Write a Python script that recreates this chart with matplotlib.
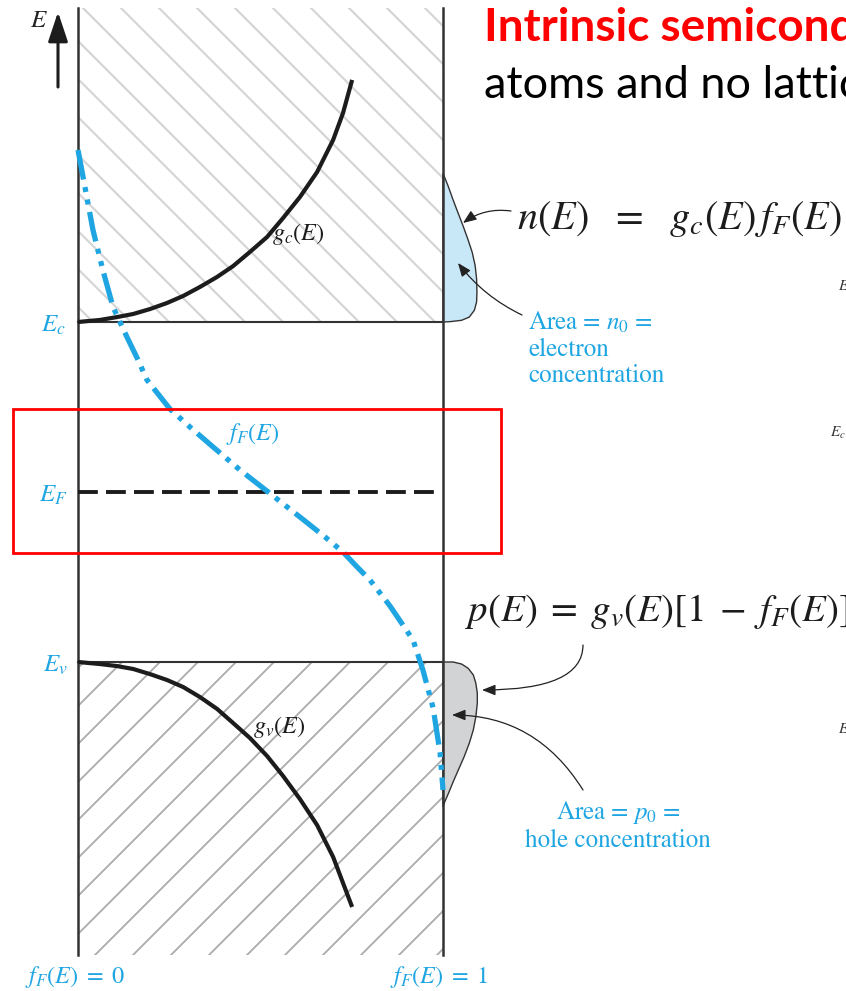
import numpy as np
import matplotlib.pyplot as plt
from matplotlib.patches import Rectangle, FancyArrowPatch

plt.rcParams['mathtext.fontset'] = 'stix'
plt.rcParams['font.family'] = ['STIXGeneral', 'DejaVu Serif']

# energies in units of half the band gap, measured from the Fermi level
E_c, E_F, E_v = 1.0, 0.0, -1.0
E_top, E_bottom = 2.847, -2.724

# density of states, conduction band (g in units of the box width)
gc_g = [0.0, 0.060, 0.107, 0.151, 0.197, 0.244, 0.288, 0.334, 0.381,
        0.425, 0.471, 0.518, 0.562, 0.608, 0.655, 0.699, 0.726, 0.751]
gc_E = [1.0, 1.012, 1.029, 1.047, 1.076, 1.112, 1.153, 1.206, 1.265,
        1.329, 1.412, 1.5, 1.612, 1.735, 1.882, 2.071, 2.229, 2.424]

# density of states, valence band
gv_g = [0.0, 0.060, 0.107, 0.151, 0.197, 0.244, 0.288, 0.334, 0.381,
        0.425, 0.471, 0.518, 0.562, 0.608, 0.655, 0.699, 0.751]
gv_E = [-1.0, -1.012, -1.024, -1.041, -1.071, -1.106, -1.147, -1.206, -1.276,
        -1.359, -1.447, -1.553, -1.671, -1.806, -1.959, -2.147, -2.441]

# Fermi-Dirac distribution
fF_f = [0.0, 0.019, 0.041, 0.068, 0.096, 0.134, 0.162, 0.189, 0.252, 0.31,
        0.370, 0.444, 0.521, 0.625, 0.677, 0.726, 0.762, 0.8, 0.855, 0.918,
        0.945, 0.973, 0.992, 1.0]
fF_E = [2.012, 1.794, 1.541, 1.306, 1.088, 0.912, 0.788, 0.659, 0.488, 0.376,
        0.265, 0.129, 0.0, -0.176, -0.265, -0.353, -0.435, -0.518, -0.671,
        -0.871, -1.047, -1.271, -1.535, -1.753]

# electron distribution n(E) and hole distribution p(E)
n_E = [1.875, 1.8, 1.722, 1.643, 1.565, 1.488, 1.41, 1.333, 1.255, 1.176,
       1.118, 1.069, 1.029, 1.01, 1.002, 1.0]
n_val = [0.0, 0.014, 0.027, 0.041, 0.055, 0.068, 0.080, 0.088, 0.092, 0.093,
         0.092, 0.086, 0.072, 0.051, 0.019, 0.0]
p_E = [-1.0, -1.0, -1.012, -1.037, -1.076, -1.125, -1.184, -1.243, -1.322,
       -1.4, -1.478, -1.557, -1.635, -1.704, -1.772, -1.822, -1.851]
p_val = [0.0, 0.028, 0.051, 0.069, 0.083, 0.090, 0.094, 0.094, 0.090, 0.083,
         0.072, 0.058, 0.042, 0.028, 0.015, 0.005, 0.0]

BLUE = '#1fa6e2'
INK = '#1c1c1c'

# layout helpers: pixel column/row on the canvas -> data units
X0, XS = 78, 365
Y0, YS = 492, 170
def fx(px):
    return (np.asarray(px, dtype=float) - X0) / XS
def ey(py):
    return (Y0 - np.asarray(py, dtype=float)) / YS

fig = plt.figure(figsize=(8.46, 9.91), dpi=100)
ax = fig.add_axes([0, 0, 1, 1])
ax.set_xlim(fx(0), fx(846))
ax.set_ylim(ey(991), ey(0))
ax.axis('off')


def hatch(x0, x1, y0, y1, sign, phase, color, lw):
    # 45 degree lines on screen, clipped to the band box
    clip = Rectangle((fx(x0), ey(y1)), fx(x1) - fx(x0), ey(y0) - ey(y1),
                     transform=ax.transData, facecolor='none', edgecolor='none')
    ax.add_patch(clip)
    for c in np.arange(phase - 38 * 40, phase + 38 * 40, 38):
        xs = np.array([x0 - 500, x1 + 500])
        ys = sign * xs + c
        ln, = ax.plot(fx(xs), ey(ys), color=color, lw=lw, zorder=1,
                      solid_capstyle='butt')
        ln.set_clip_path(clip)


hatch(78, 443, 8, 322, 1, -75, '#d6d6d6', 1.6)
hatch(78, 443, 662, 955, -1, 1050, '#ababab', 1.3)

# n(E) and p(E) lobes hanging off the f = 1 axis
ax.fill(1 + np.array(n_val), n_E, facecolor='#c8e8f8', edgecolor='#333333',
        lw=1.0, zorder=2)
ax.fill(1 + np.array(p_val), p_E, facecolor='#d2d3d5', edgecolor='#333333',
        lw=1.0, zorder=2)

# band edges and the two f axes
ax.plot([0, 1], [E_c, E_c], color='#333333', lw=1.5, zorder=3)
ax.plot([0, 1], [E_v, E_v], color='#333333', lw=1.5, zorder=3)
ax.plot([0, 0], [E_bottom, E_top], color='#333333', lw=1.8, zorder=3)
ax.plot([1, 1], [E_bottom, E_top], color='#333333', lw=1.8, zorder=3)

ax.plot(gc_g, gc_E, color=INK, lw=3.0, zorder=4, solid_capstyle='butt',
        solid_joinstyle='round')
ax.plot(gv_g, gv_E, color=INK, lw=3.0, zorder=4, solid_capstyle='butt',
        solid_joinstyle='round')
ax.plot([0, 0.984], [E_F, E_F], color=INK, lw=2.8, dashes=(5.1, 2.1), zorder=4)
ax.plot(fF_f, fF_E, color=BLUE, lw=3.8, zorder=5,
        dashes=(5.7, 1.45, 0.95, 1.45, 0.95, 1.45))

# energy arrow
ax.add_patch(FancyArrowPatch((fx(58), ey(87)), (fx(58), ey(12)),
                             arrowstyle='-|>,head_length=1.8,head_width=0.6',
                             mutation_scale=10, lw=2.2, color=INK,
                             shrinkA=0, shrinkB=0, zorder=6))
ax.text(fx(30), ey(27), r'$E$', fontsize=18, color='#222222')

# curve and level labels
ax.text(fx(66), ey(332), r'$E_c$', fontsize=18, color=BLUE, ha='right')
ax.text(fx(68), ey(502), r'$E_F$', fontsize=18, color=BLUE, ha='right')
ax.text(fx(68), ey(672), r'$E_v$', fontsize=18, color=BLUE, ha='right')
ax.text(fx(272), ey(240), r'$g_c(E)$', fontsize=17.5, color=INK)
ax.text(fx(253), ey(733), r'$g_v(E)$', fontsize=17.5, color=INK)
ax.text(fx(226), ey(440), r'$f_F(E)$', fontsize=17.5, color=BLUE)
ax.text(fx(25), ey(983), r'$f_F(E)\;=\;0$', fontsize=17.5, color=BLUE)
ax.text(fx(390), ey(983), r'$f_F(E)\;=\;1$', fontsize=17.5, color=BLUE)

# formulas
ax.text(fx(517), ey(229), r'$n(E)\;\;\,=\;\;\,g_c(E)\,f_F(E)$', fontsize=29,
        color=INK)
ax.text(fx(465), ey(621), r'$p(E)\;=\;g_v(E)[1\;-\;f_F(E)]$', fontsize=28,
        color=INK)

# area notes
ax.text(fx(528), ey(330), r'Area = $n_0$ =', fontsize=18, color=BLUE)
ax.text(fx(528), ey(356), 'electron', fontsize=18, color=BLUE)
ax.text(fx(528), ey(382), 'concentration', fontsize=18, color=BLUE)
ax.text(fx(618), ey(819), r'Area = $p_0$ =', fontsize=18, color=BLUE, ha='center')
ax.text(fx(618), ey(847), 'hole concentration', fontsize=18, color=BLUE,
        ha='center')

# pointer arrows
arrow_kw = dict(arrowstyle='-|>,head_length=0.45,head_width=0.18',
                mutation_scale=18, lw=0.9, color='#222222',
                shrinkA=0, shrinkB=0, zorder=6)
ax.add_patch(FancyArrowPatch((fx(511), ey(211)), (fx(463), ey(223)),
                             connectionstyle='arc3,rad=0.2', **arrow_kw))
ax.add_patch(FancyArrowPatch((fx(522), ey(315)), (fx(458), ey(263)),
                             connectionstyle='arc3,rad=-0.12', **arrow_kw))
ax.add_patch(FancyArrowPatch((fx(583), ey(645)), (fx(482), ey(690)),
                             connectionstyle='angle3,angleA=90,angleB=0', **arrow_kw))
ax.add_patch(FancyArrowPatch((fx(583), ey(790)), (fx(452), ey(715)),
                             connectionstyle='angle3,angleA=122,angleB=0', **arrow_kw))

# stray labels from the neighbouring panel
ax.text(fx(838), ey(290), r'$E$', fontsize=11, color='#333333')
ax.text(fx(830), ey(437), r'$E_c$', fontsize=11, color='#333333')
ax.text(fx(838), ey(733), r'$E$', fontsize=11, color='#333333')

# highlight box around the Fermi level
ax.add_patch(Rectangle((fx(13), ey(553)), fx(501) - fx(13), ey(409) - ey(553),
                       facecolor='none', edgecolor='#ff0000', lw=2.0, zorder=7))

# slide heading
ax.text(fx(484), ey(41), 'Intrinsic semiconductor: no impurity', fontsize=33,
        fontweight='bold', color='#ff0000', family='Lato')
ax.text(fx(484), ey(98), 'atoms and no lattice defects', fontsize=32.5,
        color='black', family='Lato')

fig.savefig('out.png', dpi=100)
